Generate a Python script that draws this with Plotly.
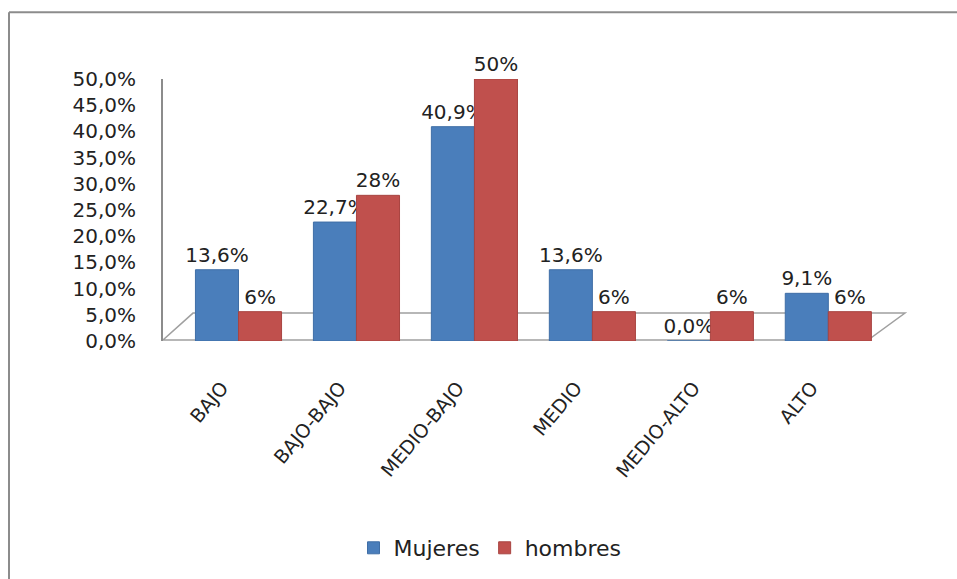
import plotly.graph_objects as go

categories = ["BAJO", "BAJO-BAJO", "MEDIO-BAJO", "MEDIO", "MEDIO-ALTO", "ALTO"]
mujeres = [13.6, 22.7, 40.9, 13.6, 0.0, 9.1]
hombres = [5.6, 27.8, 50.0, 5.6, 5.6, 5.6]
y_ticks = [0, 5, 10, 15, 20, 25, 30, 35, 40, 45, 50]
y_tick_labels = [f"{v:.1f}%".replace(".", ",") for v in y_ticks]

W, H = 957, 579
L, R, T, B = 163, 52, 79, 237
PW, PH = W - L - R, H - T - B
FONT = "DejaVu Sans"
GRAY = "#8c8c8c"
TXT = "#222222"


def px(x):
    return (x - L) / PW


def py(y):
    return (H - B - y) / PH


fig = go.Figure()
fig.add_trace(go.Bar(
    name="Mujeres", x=categories, y=mujeres,
    marker=dict(color="#4A7EBB", line=dict(color="#3F6EA6", width=1)),
    texttemplate="%{y:.1f}%", textposition="outside", cliponaxis=False, constraintext="none",
    textfont=dict(family=FONT, size=20, color=TXT),
))
fig.add_trace(go.Bar(
    name="hombres", x=categories, y=hombres,
    marker=dict(color="#C0504D", line=dict(color="#A84441", width=1)),
    texttemplate="%{y:.0f}%", textposition="outside", cliponaxis=False, constraintext="none",
    textfont=dict(family=FONT, size=20, color=TXT),
))
# invisible carrier so the category-label axis gets drawn
fig.add_trace(go.Scatter(
    x=list(range(len(categories))), y=[None] * len(categories), xaxis="x2", yaxis="y",
    mode="markers", showlegend=False, hoverinfo="skip",
))

shapes = [
    # outer frame (top and left)
    dict(type="line", xref="paper", yref="paper", x0=px(9), x1=px(W + 5), y0=py(12), y1=py(12),
         line=dict(color=GRAY, width=2)),
    dict(type="line", xref="paper", yref="paper", x0=px(9), x1=px(9), y0=py(12), y1=py(H + 5),
         line=dict(color=GRAY, width=2)),
    # floor
    dict(type="path", xref="paper", yref="paper", layer="below",
         path=f"M {px(163)} {py(341)} L {px(868)} {py(341)} L {px(905)} {py(314)} L {px(193)} {py(314)} Z",
         line=dict(color="#a0a0a0", width=1.5), fillcolor="rgba(0,0,0,0)"),
]

fig.update_layout(
    width=W, height=H,
    margin=dict(l=L, r=R, t=T, b=B),
    paper_bgcolor="white", plot_bgcolor="white",
    separators=",.",
    barmode="group", bargap=0.27, bargroupgap=0.0,
    font=dict(family=FONT, size=19, color=TXT),
    showlegend=True,
    legend=dict(orientation="h", x=(490 - L) / PW, xanchor="center",
                y=py(548), yanchor="middle",
                font=dict(family=FONT, size=22, color=TXT),
                itemwidth=30, tracegroupgap=0),
    shapes=shapes,
    xaxis=dict(range=[-0.64, 5.65], showticklabels=False, showline=False, showgrid=False,
               zeroline=False, ticks=""),
    xaxis2=dict(overlaying="x", anchor="y", side="bottom", range=[-0.64 + 0.14, 5.65 + 0.14],
                tickmode="array", tickvals=list(range(len(categories))), ticktext=categories,
                tickangle=-50, ticks="", showline=False, showgrid=False, zeroline=False,
                ticklabelstandoff=31,
                tickfont=dict(family=FONT, size=19, color=TXT)),
    yaxis=dict(range=[0, 50], tickmode="array", tickvals=y_ticks, ticktext=y_tick_labels,
               showgrid=False, zeroline=False, showline=True, linecolor=GRAY, linewidth=2,
               ticks="", ticklabelstandoff=21,
               tickfont=dict(family=FONT, size=20, color=TXT)),
)

fig.write_html("out.html")
